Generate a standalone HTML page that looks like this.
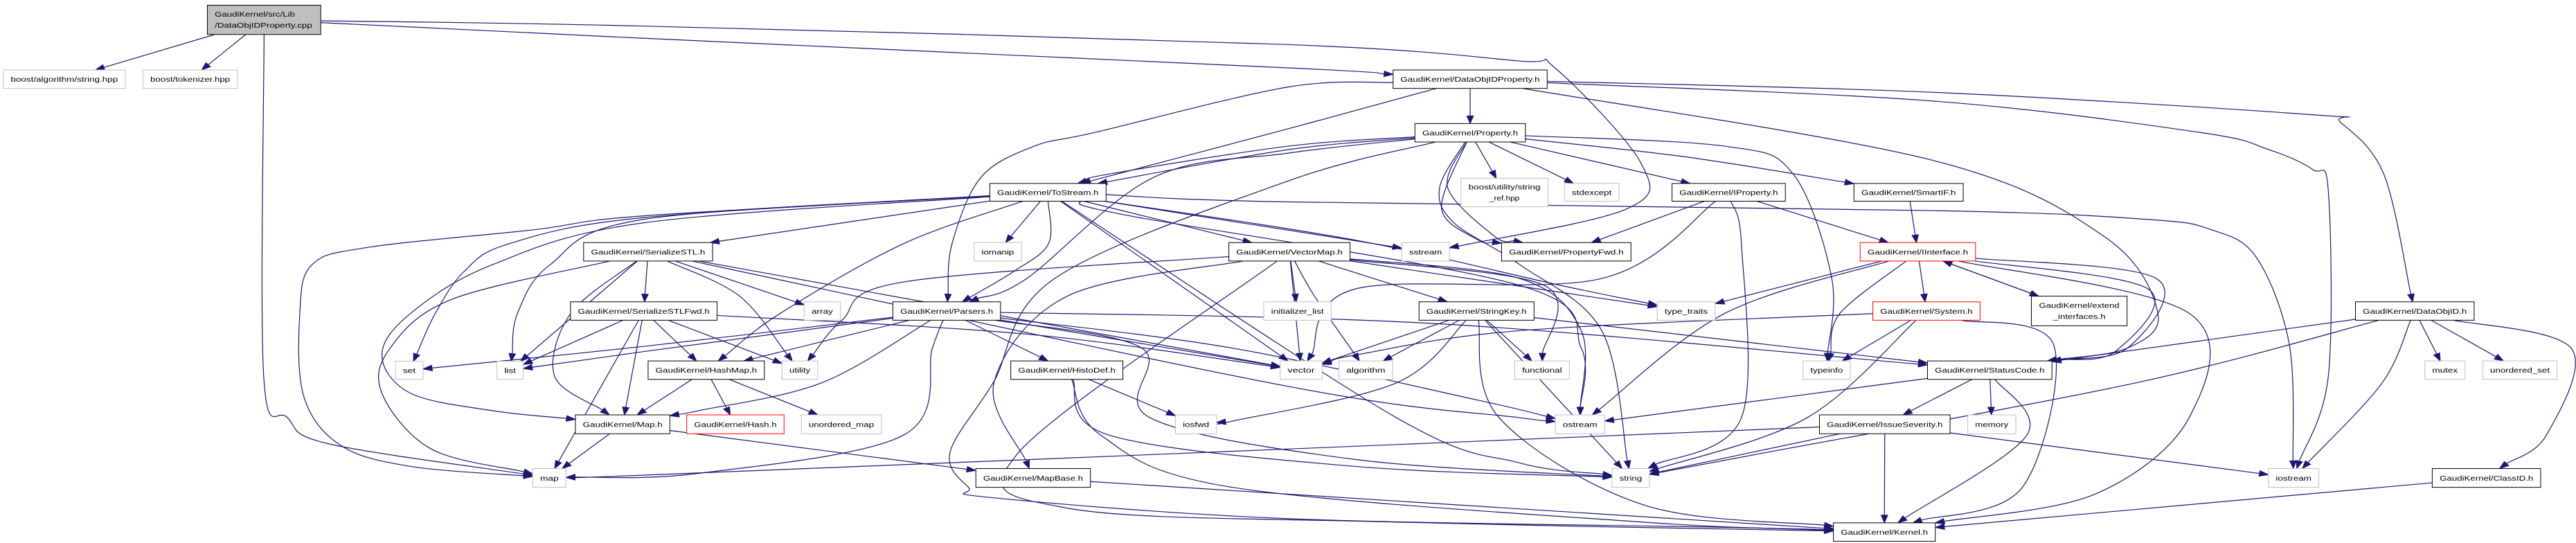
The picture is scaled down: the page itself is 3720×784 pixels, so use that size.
<!DOCTYPE html>
<html><head><meta charset="utf-8"><style>
html,body{margin:0;padding:0;background:#fff;width:3720px;height:784px;overflow:hidden}
svg{display:block}
</style></head><body>
<svg id="g" xmlns="http://www.w3.org/2000/svg" width="3720" height="784" viewBox="0 0 6272 1560" preserveAspectRatio="none"></svg>
<script>
var N={
cpp:[505,15,781,99,'g',['GaudiKernel/src/Lib','/DataObjIDProperty.cpp']],
bas:[8,201,305,254,'x','boost/algorithm/string.hpp'],
btk:[348,201,578,254,'x','boost/tokenizer.hpp'],
set:[963,1038,1030,1090,'x','set'],
list:[1210,1038,1274,1090,'x','list'],
map:[1297,1346,1378,1400,'x','map'],
sstl:[1421,697,1735,750,'n','GaudiKernel/SerializeSTL.h'],
sfwd:[1389,867,1746,920,'n','GaudiKernel/SerializeSTLFwd.h'],
maph:[1401,1192,1631,1246,'n','GaudiKernel/Map.h'],
tos:[2410,527,2693,578,'n','GaudiKernel/ToStream.h'],
ioman:[2372,697,2487,750,'x','iomanip'],
array:[1958,867,2046,920,'x','array'],
pars:[2174,867,2436,920,'n','GaudiKernel/Parsers.h'],
hmap:[1578,1037,1861,1090,'n','GaudiKernel/HashMap.h'],
util:[1904,1037,1991,1090,'x','utility'],
hdef:[2461,1037,2734,1090,'n','GaudiKernel/HistoDef.h'],
hash:[1672,1192,1909,1246,'r','GaudiKernel/Hash.h'],
umap:[1951,1192,2146,1246,'x','unordered_map'],
iosfwd:[2862,1192,2962,1246,'x','iosfwd'],
mbase:[2376,1346,2655,1400,'n','GaudiKernel/MapBase.h'],
vmap:[2992,697,3287,750,'n','GaudiKernel/VectorMap.h'],
ilist:[3077,867,3241,920,'x','initializer_list'],
vector:[3117,1037,3219,1090,'x','vector'],
doip:[3392,201,3767,254,'n','GaudiKernel/DataObjIDProperty.h'],
prop:[3445,355,3714,408,'n','GaudiKernel/Property.h'],
bref:[3557,512,3769,594,'x',['boost/utility/string','_ref.hpp']],
stdex:[3809,527,3942,578,'x','stdexcept'],
iprop:[4071,527,4347,578,'n','GaudiKernel/IProperty.h'],
smart:[4514,527,4780,578,'n','GaudiKernel/SmartIF.h'],
sstream:[3413,697,3529,750,'x','sstream'],
pfwd:[3656,697,3971,750,'n','GaudiKernel/PropertyFwd.h'],
intf:[4529,697,4810,750,'r','GaudiKernel/IInterface.h'],
skey:[3455,867,3735,920,'n','GaudiKernel/StringKey.h'],
ttr:[4035,867,4176,920,'x','type_traits'],
sys:[4560,867,4821,920,'r','GaudiKernel/System.h'],
algo:[3260,1037,3391,1090,'x','algorithm'],
func:[3688,1037,3821,1090,'x','functional'],
tinfo:[4390,1037,4505,1090,'x','typeinfo'],
sc:[4693,1037,4996,1090,'n','GaudiKernel/StatusCode.h'],
ostream:[3787,1192,3907,1246,'x','ostream'],
isev:[4430,1192,4748,1246,'n','GaudiKernel/IssueSeverity.h'],
string:[3925,1346,4016,1400,'x','string'],
kernel:[4464,1502,4712,1555,'n','GaudiKernel/Kernel.h'],
ext:[4946,851,5179,936,'n',['GaudiKernel/extend','_interfaces.h']],
memory:[4791,1192,4908,1246,'x','memory'],
iostream:[5523,1346,5646,1400,'x','iostream'],
doid:[5735,867,6024,920,'n','GaudiKernel/DataObjID.h'],
mutex:[5904,1037,6002,1090,'x','mutex'],
uset:[6045,1037,6226,1090,'x','unordered_set'],
classid:[5922,1346,6186,1400,'n','GaudiKernel/ClassID.h']
};
var E=[
['cpp','bas'],['cpp','btk'],['cpp','map',[[642,1080],[700,1200],[800,1275]]],
['cpp','sstream',[[1568,75],[3136,128],[3696,175],[3786,195],[3996,470],[3961,600],[3560,705]]],
['cpp','doip',[[1568,110],[3136,195]]],
['doip','prop'],
['doip','doid',[[4704,265],[5634,330],[5699,352],[5804,500],[5869,840]]],
['doip','iostream',[[4704,290],[5354,380],[5524,430],[5631,487],[5669,550],[5669,1080]]],
['doip','sc',[[4704,460],[5124,680],[5254,900],[5180,1000]]],
['doip','tos',[[3136,370]]],
['doip','pars',[[3136,250],[2668,380],[2518,420],[2388,510],[2318,700]]],
['prop','tos',[[3136,430]]],['prop','tos',[[3136,420],[2700,500]]],
['prop','pars',[[3136,440],[2808,510],[2500,800]]],
['prop','kernel',[[3136,520],[2568,800],[2418,1100],[2313,1300],[2358,1400],[2418,1430],[3136,1490],[4200,1515]]],
['prop','bref'],['prop','stdex'],['prop','iprop'],['prop','smart',[[4100,450]]],
['prop','pfwd',[[3525,540],[3640,680]]],['prop','pfwd',[[3510,600],[3600,690]]],
['prop','string',[[3505,540],[3540,640],[3700,760],[3900,950]]],
['prop','tinfo',[[4200,420],[4366,500],[4460,800]]],
['tos','sstl'],['tos','ioman'],['tos','pars',[[2553,700],[2468,780]]],['tos','vmap'],['tos','vector'],
['tos','string',[[3400,1200],[3700,1330]]],['tos','sstream'],
['tos','iostream',[[3136,580],[4704,605],[5224,630],[5384,660],[5494,740],[5574,990]]],
['tos','hmap',[[2200,700],[1900,900]]],
['tos','map',[[1568,620],[1300,660],[900,710],[760,760],[730,900],[740,1140],[830,1280],[1000,1340]]],
['tos','set',[[1568,625],[1240,700],[1130,780],[1060,900]]],
['tos','list',[[1568,630],[1340,760],[1260,900]]],
['tos','maph',[[1568,640],[1200,760],[1000,900],[930,1020],[1000,1130],[1200,1180]]],
['tos','ttr',[[3300,690],[3800,820]]],
['tos','ostream',[[2750,620],[3700,820],[3850,1000]]],
['sstl','sfwd'],['sstl','array'],['sstl','util',[[1800,850]]],['sstl','vector'],
['sstl','ostream',[[3136,1110],[3700,1200]]],['sstl','list'],
['sstl','maph',[[1390,900],[1350,1080]]],['sstl','map',[[1100,860],[950,1000],[930,1130],[1050,1290]]],
['pars','set',[[1568,995]]],['pars','list',[[1568,1010]]],
['sfwd','list'],['sfwd','map'],['sfwd','maph'],['sfwd','hmap'],['sfwd','util'],['sfwd','vector',[[2500,960]]],
['pars','hmap'],['pars','maph',[[2000,1100],[1700,1180]]],['pars','map',[[2270,1000],[2200,1250],[1700,1360]]],
['pars','hdef'],['pars','vector'],['pars','sc',[[3500,930]]],['pars','string',[[2780,1000],[2800,1200],[3300,1320]]],
['pars','ostream',[[3000,1000],[3600,1150]]],
['hmap','maph'],['hmap','hash'],['hmap','umap'],
['maph','map'],['maph','mbase'],
['hdef','iosfwd'],['hdef','string',[[2700,1250],[3300,1340]]],['hdef','kernel',[[2680,1250],[3000,1400],[4000,1500]]],
['vmap','ilist'],['vmap','vector'],['vmap','algo',[[3200,850]]],['vmap','skey'],['vmap','ttr'],
['vmap','ostream',[[3700,800],[3850,950]]],['vmap','func',[[3760,820]]],['vmap','util',[[2200,810],[2050,920]]],
['vmap','mbase',[[2600,850],[2420,1100]]],['vmap','kernel',[[2480,1300],[2600,1460],[3400,1500]]],
['skey','vector'],['skey','algo'],['skey','func'],['skey','string'],['skey','kernel',[[3650,1200],[4000,1450]]],
['skey','iosfwd',[[3400,1100],[3000,1210]]],['skey','sc'],
['iprop','pfwd'],['iprop','vector',[[3900,800],[3300,830]]],['iprop','string',[[4240,700],[4240,1200]]],['iprop','intf'],
['smart','intf'],
['intf','ttr'],['intf','ostream',[[4200,900]]],['intf','tinfo',[[4480,900]]],['intf','sys'],
['intf','sc',[[5250,800],[5180,1000]]],['intf','sc',[[5230,830],[5150,1010]]],['intf','ext'],
['intf','kernel',[[5330,900],[5330,1200],[5100,1420]]],
['ext','intf'],
['sys','tinfo'],['sys','string',[[4400,1200]]],['sys','vector',[[3700,950],[3300,1020]]],['sys','kernel',[[5000,990],[4924,1400]]],
['sc','ostream'],['sc','isev'],['sc','memory'],['sc','kernel',[[4935,1250]]],
['isev','map',[[3136,1290],[1568,1365]]],['isev','string'],['isev','iostream'],['isev','kernel'],
['doid','sc'],['doid','string',[[5200,1100],[4300,1300]]],['doid','iostream',[[5800,1100]]],['doid','mutex'],['doid','uset'],
['doid','classid',[[6260,1000],[6200,1250]]],
['classid','kernel'],['mbase','kernel']
];
var NS='http://www.w3.org/2000/svg',svg=document.getElementById('g');
function el(t,a,txt){var e=document.createElementNS(NS,t);for(var k in a)e.setAttribute(k,a[k]);if(txt!=null)e.textContent=txt;svg.appendChild(e);return e;}
function ctr(n){return [(n[0]+n[2])/2,(n[1]+n[3])/2];}
function clip(n,p){var c=ctr(n),dx=p[0]-c[0],dy=p[1]-c[1],hw=(n[2]-n[0])/2,hh=(n[3]-n[1])/2;
 var t=Math.min(dx?hw/Math.abs(dx):1e9,dy?hh/Math.abs(dy):1e9);return [c[0]+dx*t,c[1]+dy*t];}
var C='#191970';
E.forEach(function(e){
 var a=N[e[0]],b=N[e[1]],w=e[2]||[];
 var p0=clip(a,w.length?w[0]:ctr(b)),pl=w.length?w[w.length-1]:p0,tip=clip(b,pl);
 var dx=tip[0]-pl[0],dy=tip[1]-pl[1],L=Math.sqrt(dx*dx+dy*dy)||1;dx/=L;dy/=L;
 var base=[tip[0]-dx*22,tip[1]-dy*22];
 var pts=[p0].concat(w).concat([base]);
 var d='M'+pts[0][0]+','+pts[0][1];
 for(var i=0;i<pts.length-1;i++){
  var q0=pts[i-1]||pts[i],q1=pts[i],q2=pts[i+1],q3=pts[i+2]||pts[i+1];
  var c1=[q1[0]+(q2[0]-q0[0])/6,q1[1]+(q2[1]-q0[1])/6],c2=[q2[0]-(q3[0]-q1[0])/6,q2[1]-(q3[1]-q1[1])/6];
  d+=' C'+c1[0]+','+c1[1]+' '+c2[0]+','+c2[1]+' '+q2[0]+','+q2[1];
 }
 el('path',{d:d,fill:'none',stroke:C,'stroke-width':1.2,'vector-effect':'non-scaling-stroke'});
 var px=-dy*8,py=dx*8;
 el('polygon',{points:tip[0]+','+tip[1]+' '+(base[0]+px)+','+(base[1]+py)+' '+(base[0]-px)+','+(base[1]-py),fill:C,stroke:C,'stroke-width':1,'vector-effect':'non-scaling-stroke'});
});
for(var k in N){var n=N[k],t=n[4];
 var stroke=t=='x'?'#bfbfbf':(t=='r'?'#ff0000':'#000'),fill=t=='g'?'#bfbfbf':'#fff';
 el('rect',{x:n[0],y:n[1],width:n[2]-n[0],height:n[3]-n[1],fill:fill,stroke:stroke,'stroke-width':1,'vector-effect':'non-scaling-stroke'});
 var fs={'font-family':'"Liberation Sans",sans-serif','font-size':21,fill:'#000'};
 if(typeof n[5]=='string'){
  var a=Object.assign({x:(n[0]+n[2])/2,y:(n[1]+n[3])/2+7.5,'text-anchor':'middle',textLength:n[2]-n[0]-36,lengthAdjust:'spacingAndGlyphs'},fs);
  el('text',a,n[5]);
 } else {
  var cy=(n[1]+n[3])/2;
  if(k=='cpp'){
   el('text',Object.assign({x:523,y:cy-9,textLength:195,lengthAdjust:'spacingAndGlyphs'},fs),n[5][0]);
   el('text',Object.assign({x:523,y:cy+23,textLength:237,lengthAdjust:'spacingAndGlyphs'},fs),n[5][1]);
  } else {
   var cx=(n[0]+n[2])/2,l1=k=='bref'?175:196,l2=k=='bref'?73:128;
   el('text',Object.assign({x:cx,y:cy-9,'text-anchor':'middle',textLength:l1,lengthAdjust:'spacingAndGlyphs'},fs),n[5][0]);
   el('text',Object.assign({x:cx,y:cy+23,'text-anchor':'middle',textLength:l2,lengthAdjust:'spacingAndGlyphs'},fs),n[5][1]);
  }
 }
}
</script>
</body></html>
